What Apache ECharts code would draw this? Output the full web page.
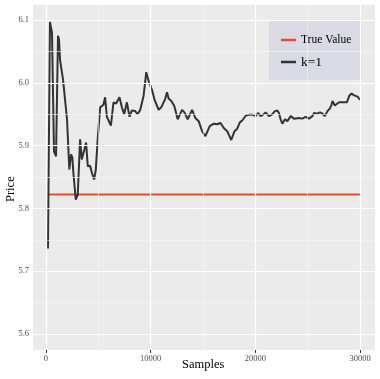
<!DOCTYPE html>
<html><head><meta charset="utf-8">
<script src="https://cdn.jsdelivr.net/npm/echarts@6/dist/echarts.min.js"></script>
<style>html,body{margin:0;padding:0;background:#fff}#c{width:380px;height:379px}</style>
</head><body><div id="c"></div>
<script>
// Samples (x) for the k=1 estimate
const samples = [190,380,575,765,960,1150,1245,1340,1630,2010,2230,2395,2520,2615,2845,3035,3260,3420,3670,3830,3995,4215,4380,4600,4760,4955,5175,5340,5490,5650,5815,5970,6200,6450,6705,7020,7250,7470,7730,7980,8210,8525,8745,9005,9320,9580,9800,9960,10125,10375,10760,11015,11400,11560,11715,11975,12260,12580,13000,13220,13535,13960,14275,14590,14915,15230,15645,16025,16350,16670,16985,17310,17465,17695,17850,18010,18270,18520,18750,18900,19095,19380,19545,19765,20020,20280,20500,20720,20980,21295,21555,21870,22100,22255,22415,22580,22830,23060,23375,23690,24170,24495,24810,25130,25450,25610,25935,26180,26410,26630,26890,27110,27275,27370,27590,27780,28000,28330,28480,28740,28960,29190,29440,29760,30010];
// Price estimates for k=1
const k1Values = [5.736,6.097,6.080,5.891,5.883,6.075,6.069,6.037,6.005,5.942,5.862,5.886,5.881,5.857,5.814,5.822,5.910,5.878,5.894,5.905,5.867,5.868,5.857,5.846,5.862,5.914,5.961,5.959,5.965,5.977,5.946,5.945,5.932,5.969,5.967,5.977,5.961,5.950,5.969,5.946,5.956,5.955,5.950,5.957,5.979,6.017,6.003,6.004,5.989,5.973,5.957,5.961,5.975,5.985,5.975,5.971,5.963,5.942,5.957,5.953,5.942,5.957,5.944,5.939,5.923,5.915,5.931,5.935,5.934,5.936,5.928,5.923,5.926,5.909,5.910,5.923,5.927,5.937,5.940,5.937,5.948,5.949,5.947,5.949,5.947,5.952,5.947,5.949,5.953,5.947,5.949,5.955,5.956,5.952,5.942,5.935,5.942,5.939,5.947,5.943,5.944,5.943,5.946,5.943,5.947,5.952,5.951,5.953,5.951,5.947,5.955,5.959,5.965,5.971,5.964,5.965,5.969,5.969,5.972,5.969,5.979,5.983,5.980,5.978,5.973];
// True value line
const trueSamples = [200, 30000];
const trueValue = 5.822;
// Tick labels
const xTicks = [0, 10000, 20000, 30000];
const xMinor = [5000, 15000, 25000];
const yTicks = [5.6, 5.7, 5.8, 5.9, 6.0, 6.1];
const yMinor = [5.65, 5.75, 5.85, 5.95, 6.05];

const k1Data = samples.map((s, i) => [s, k1Values[i]]);
const trueData = trueSamples.map(s => [s, trueValue]);
const serif = '"Liberation Serif", "DejaVu Serif", serif';

const gridLines = [
  ...xMinor.map(v => ({xAxis: v, lineStyle: {color: '#F6F6F6', width: 0.6, type: 'solid'}})),
  ...yMinor.map(v => ({yAxis: v, lineStyle: {color: '#F6F6F6', width: 0.6, type: 'solid'}})),
  ...xTicks.map(v => ({xAxis: v, lineStyle: {color: '#FFFFFF', width: 1.2, type: 'solid'}})),
  ...yTicks.map(v => ({yAxis: v, lineStyle: {color: '#FFFFFF', width: 1.2, type: 'solid'}}))
];

const chart = echarts.init(document.getElementById('c'), null, {renderer: 'canvas'});
chart.setOption({
  animation: false,
  backgroundColor: '#FFFFFF',
  grid: {left: 33, top: 5, width: 342, height: 345, show: true, backgroundColor: '#EBEBEB', borderWidth: 0},
  xAxis: {
    type: 'value', min: -1240, max: 31430,
    axisLine: {show: false},
    splitLine: {show: false},
    axisTick: {show: true, customValues: xTicks, length: 3, lineStyle: {color: '#333333', width: 1}},
    axisLabel: {customValues: xTicks, margin: 4, fontFamily: serif, fontSize: 8.5, color: '#4D4D4D',
      formatter: v => String(v)}
  },
  yAxis: {
    type: 'value', min: 5.5745, max: 6.124,
    axisLine: {show: false},
    splitLine: {show: false},
    axisTick: {show: true, customValues: yTicks, length: 3, lineStyle: {color: '#333333', width: 1}},
    axisLabel: {customValues: yTicks, margin: 4, fontFamily: serif, fontSize: 8.5, color: '#4D4D4D',
      formatter: v => v.toFixed(1)}
  },
  legend: {
    orient: 'vertical', left: 269, top: 21, width: 89,
    backgroundColor: '#DADAE4', borderWidth: 0,
    padding: [13, 10, 11, 12],
    itemGap: 9, itemWidth: 15, itemHeight: 2.5,
    icon: 'rect',
    data: [
      {name: 'True Value', textStyle: {fontSize: 11.5}},
      {name: 'k=1', textStyle: {fontSize: 13.5}}
    ],
    textStyle: {fontFamily: serif, color: '#000000'}
  },
  graphic: [
    {type: 'text', left: 182, top: 358, style: {text: 'Samples', font: '12.5px ' + serif, fill: '#000'}},
    {type: 'text', x: 4, y: 202, rotation: Math.PI / 2, style: {text: 'Price', font: '12.5px ' + serif, fill: '#000'}}
  ],
  series: [
    {
      type: 'line', name: '_grid', data: [], silent: true,
      markLine: {silent: true, symbol: 'none', label: {show: false}, data: gridLines, animation: false}
    },
    {
      type: 'line', name: 'True Value', data: trueData, showSymbol: false,
      lineStyle: {color: '#E64B2C', width: 2}, itemStyle: {color: '#E64B2C'}, z: 3
    },
    {
      type: 'line', name: 'k=1', data: k1Data, showSymbol: false,
      lineStyle: {color: '#333333', width: 2}, itemStyle: {color: '#333333'}, z: 4
    }
  ]
});
</script></body></html>
